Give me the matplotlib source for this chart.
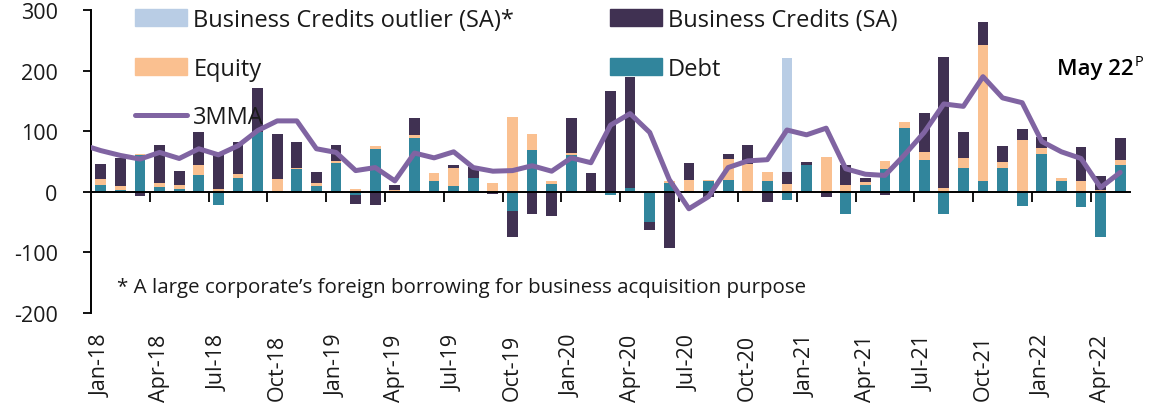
import matplotlib
matplotlib.use("Agg")
import matplotlib.pyplot as plt
import numpy as np
from matplotlib.patches import Patch
from matplotlib.lines import Line2D

plt.rcParams['font.family'] = ['Open Sans', 'DejaVu Sans']
plt.rcParams['axes.unicode_minus'] = False

# ---- data (Jan-18 .. May-22, monthly)
debt = [11, 3, 60, 8, 5, 28, -22, 23, 98, 0, 38, 10,
        47, -6, 71, 0, 89, 18, 9, 22, 0, -31, 69, 13,
        60, 0, -5, 6, -50, 15, 2, 18, 19, 0, 18, -14,
        45, 0, -37, 12, 38, 106, 53, -37, 40, 18, 39, -24,
        63, 18, -25, -75, 45]
equity = [10, 7, 2, 7, 6, 17, 4, 7, 0, 21, 2, 5,
          4, 5, 4, 3, 5, 13, 30, 1, 14, 124, 27, 5,
          4, 2, 0, 0, 2, 3, 17, 2, 35, 46, 15, 13,
          0, 58, 12, 4, 13, 9, 12, 7, 16, 224, 10, 86,
          10, 5, 18, 3, 8]
bus_credit = [25, 45, -7, 62, 24, 54, 58, 53, 74, 75, 42, 18,
              26, -14, -22, 9, 28, 0, 6, 18, -4, -43, -36, -40,
              58, 29, 167, 184, -13, -93, 29, -9, 8, 31, -17, 20,
              4, -8, 32, 7, -5, 0, 65, 216, 43, 39, 27, 18,
              18, 0, 56, 23, 36]
outlier = [0] * 53
outlier[35] = 187  # Dec-20
# 3-month moving average; first value is Dec-17 (enters from the left edge)
mma_dec17 = 78
mma = [68, 60, 54, 65, 55, 71, 61, 76, 101, 117, 117, 71,
       65, 35, 40, 18, 64, 56, 66, 40, 34, 35, 43, 34,
       56, 48, 110, 129, 98, 20, -28, -8, 40, 51, 53, 102,
       94, 105, 38, 29, 27, 61, 98, 145, 141, 190, 155, 147,
       83, 66, 55, 7, 32]
tick_labels = ['Jan-18', 'Apr-18', 'Jul-18', 'Oct-18', 'Jan-19', 'Apr-19',
               'Jul-19', 'Oct-19', 'Jan-20', 'Apr-20', 'Jul-20', 'Oct-20',
               'Jan-21', 'Apr-21', 'Jul-21', 'Oct-21', 'Jan-22', 'Apr-22']

c_debt = '#31859C'
c_eq = '#FAC090'
c_bc = '#403152'
c_out = '#B9CDE5'
c_line = '#8064A2'
txt = '#1a1a1a'

W, H = 1160, 410
fig = plt.figure(figsize=(W / 100, H / 100), dpi=100)
ax = fig.add_axes([91 / W, 1 - 314 / H, (1130 - 91) / W, (314 - 11) / H])

n = len(debt)
x = np.arange(n)
pos_bottom = np.zeros(n)
neg_bottom = np.zeros(n)
for vals, col in [(debt, c_debt), (equity, c_eq), (bus_credit, c_bc), (outlier, c_out)]:
    v = np.array(vals, dtype=float)
    bottom = np.where(v >= 0, pos_bottom, neg_bottom)
    ax.bar(x, v, width=0.55, bottom=bottom, color=col, zorder=2, linewidth=0)
    pos_bottom = pos_bottom + np.where(v > 0, v, 0)
    neg_bottom = neg_bottom + np.where(v < 0, v, 0)

line_x = np.arange(-1, n)
line_y = [mma_dec17] + mma
ax.plot(line_x, line_y, color=c_line, lw=3.6, zorder=4,
        solid_joinstyle='round', solid_capstyle='round')

ax.set_xlim(-0.5, n - 0.5)
ax.set_ylim(-200, 300)
ax.set_yticks(np.arange(-200, 301, 100))
for s in ['top', 'right']:
    ax.spines[s].set_visible(False)
ax.spines['bottom'].set_position(('data', 0))
ax.spines['bottom'].set_linewidth(1.4)
ax.spines['left'].set_linewidth(1.4)
ax.spines['bottom'].set_zorder(3)
ax.set_xticks(np.arange(2.5, n - 0.5, 3))
ax.tick_params(axis='x', direction='out', length=7, width=1.3, labelbottom=False)
ax.tick_params(axis='y', direction='out', length=6, width=1.3, pad=18,
               labelsize=15.5, labelcolor=txt)

sec = ax.secondary_xaxis('bottom')
sec.spines['bottom'].set_visible(False)
sec.set_xticks(np.arange(0, n, 3))
sec.set_xticklabels(tick_labels, rotation=90, fontsize=15.5, color=txt)
sec.tick_params(axis='x', length=0, pad=15)

handles = [Patch(color=c_out), Patch(color=c_eq),
           Line2D([0], [0], color=c_line, lw=3.6, solid_capstyle='round'),
           Patch(color=c_bc), Patch(color=c_debt)]
labels = ['Business Credits outlier (SA)*', 'Equity', '3MMA',
          'Business Credits (SA)', 'Debt']
fig.legend(handles, labels, loc='upper left', bbox_to_anchor=(135 / W, 1 - 9 / H),
           ncol=2, frameon=False, fontsize=17, handlelength=2.2,
           handleheight=0.76, handletextpad=0.27, labelspacing=1.04,
           columnspacing=4.05, borderpad=0, borderaxespad=0, labelcolor=txt)

fig.text(117 / W, 1 - 288 / H,
         '* A large corporate\u2019s foreign borrowing for business acquisition purpose',
         fontsize=14.75, color=txt, va='center', ha='left')
fig.text(1134 / W, 1 - 70 / H, 'May 22', fontsize=16, color='black',
         va='center', ha='right', fontweight='semibold')
fig.text(1135 / W, 1 - 62 / H, 'P', fontsize=10.5, color='black',
         va='center', ha='left')

fig.savefig('out.png', dpi=100)
